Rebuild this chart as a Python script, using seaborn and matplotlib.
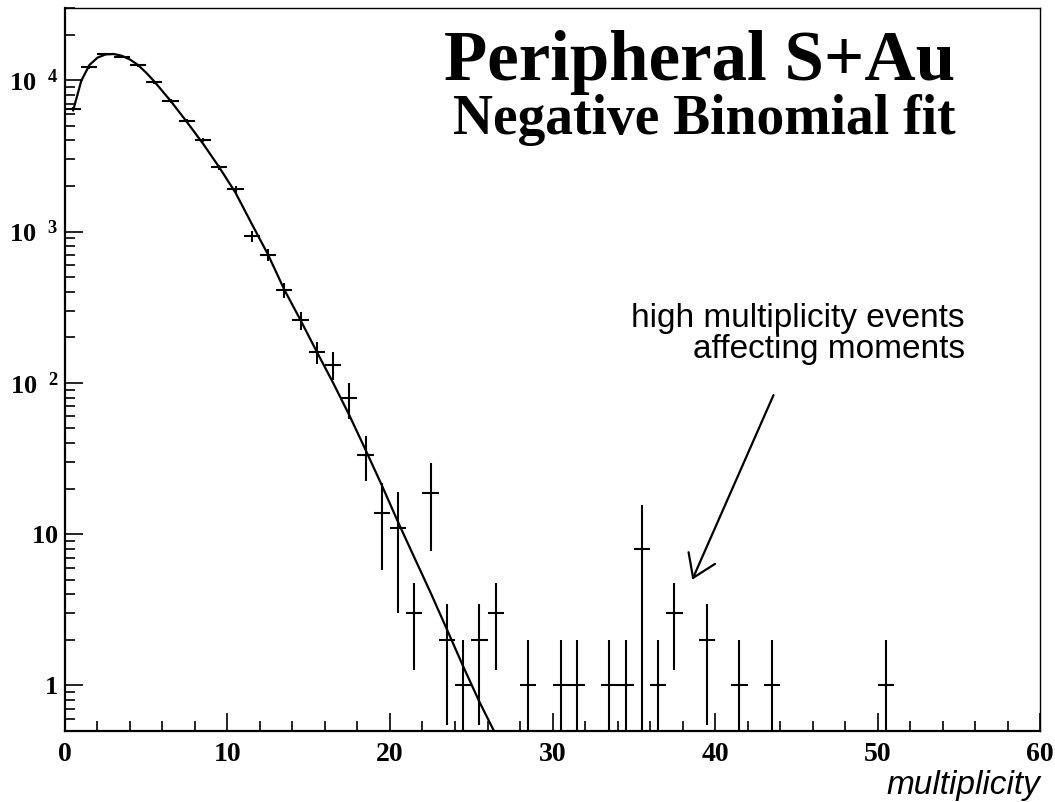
import matplotlib
matplotlib.use('Agg')
import pandas as pd
import matplotlib.pyplot as plt
import seaborn as sns
from matplotlib.ticker import FixedLocator, FixedFormatter, MultipleLocator, LogLocator, NullFormatter

# multiplicity distribution (bin centres, counts, errors)
mult = [0.5, 1.5, 2.5, 3.5, 4.5, 5.5, 6.5, 7.5, 8.5, 9.5,
        10.5, 11.5, 12.5, 13.5, 14.5, 15.5, 16.5, 17.5, 18.5, 19.5,
        20.5, 21.5, 22.5, 23.5, 24.5, 25.5, 26.5, 28.5, 30.5, 31.5,
        33.5, 34.5, 35.5, 36.5, 37.5, 39.5, 41.5, 43.5, 50.5]
counts = [6500, 12200, 14900, 14250, 12600, 9660, 7300, 5380, 4020, 2650,
          1900, 933, 700, 411, 259, 159, 132, 79, 33.6, 13.8,
          11, 3, 18.7, 2, 1, 2, 3, 1, 1, 1,
          1, 1, 8, 1, 3, 2, 1, 1, 1]
count_err = [150, 250, 300, 300, 280, 230, 190, 160, 130, 110,
             90, 75, 65, 45, 34, 26, 27, 21, 11, 8,
             8, 1.73, 11, 1.45, 1, 1.45, 1.73, 1, 1, 1,
             1, 1, 7.7, 1, 1.73, 1.45, 1, 1, 1]

# negative binomial fit curve
fit_x = [0.5, 1.0, 1.5, 2.0, 2.5, 3.0, 3.5, 4.0, 4.5, 5.0, 5.5, 6.5, 7.5, 8.5, 9.5,
         10.5, 11.5, 12.5, 13.5, 14.5, 15.5, 16.5, 17.5, 18.5, 19.5, 20.5,
         21.5, 22.5, 23.5, 24.5, 25.5, 26.4]
fit_y = [6300, 9900, 12600, 14100, 14800, 14900, 14500, 13700, 12600, 11200, 9800,
         7300, 5300, 3800, 2650, 1800, 1120, 702, 412, 259, 160, 100, 61, 36, 21, 12,
         7.0, 4.1, 2.35, 1.34, 0.78, 0.5]

ytick_vals = [1, 10, 100, 1000, 10000]
ytick_labels = [r'$\mathregular{1\hspace{0.72}}$', r'$\mathregular{10\hspace{0.72}}$',
                r'$\mathregular{10^{\hspace{0.6}2}}$', r'$\mathregular{10^{\hspace{0.6}3}}$',
                r'$\mathregular{10^{\hspace{0.6}4}}$']
xtick_vals = [0, 10, 20, 30, 40, 50, 60]
xtick_labels = ['0', '10', '20', '30', '40', '50', '60']

sns.set_style('ticks')
plt.rcParams['font.family'] = ['Liberation Serif', 'DejaVu Serif']
plt.rcParams['font.weight'] = 'bold'
for key in ['text.color', 'axes.labelcolor', 'axes.edgecolor', 'xtick.color', 'ytick.color']:
    plt.rcParams[key] = 'black'

df = pd.DataFrame({'mult': mult, 'counts': counts, 'err': count_err})
fit_df = pd.DataFrame({'x': fit_x, 'y': fit_y})

fig = plt.figure(figsize=(10.55, 8.02), dpi=100)
ax = fig.add_axes([0.0616, 0.0885, 0.9242, 0.9015])
ax.set_yscale('log')

# data points with error crosses
ax.errorbar(df['mult'], df['counts'], yerr=df['err'], xerr=0.5, fmt='none',
            ecolor='black', elinewidth=1.5, capsize=0)

# fit curve
sns.lineplot(data=fit_df, x='x', y='y', ax=ax, color='black', linewidth=1.6,
             sort=False, estimator=None)

ax.set_xlim(0, 60)
ax.set_ylim(0.5, 3e4)

# axis ticks, ROOT style (inward, left and bottom only)
ax.xaxis.set_major_locator(FixedLocator(xtick_vals))
ax.xaxis.set_major_formatter(FixedFormatter(xtick_labels))
ax.xaxis.set_minor_locator(MultipleLocator(2))
ax.yaxis.set_major_locator(FixedLocator(ytick_vals))
ax.yaxis.set_major_formatter(FixedFormatter(ytick_labels))
ax.yaxis.set_minor_locator(LogLocator(base=10, subs=[2, 3, 4, 5, 6, 7, 8, 9]))
ax.yaxis.set_minor_formatter(NullFormatter())
ax.tick_params(which='both', direction='in', top=False, right=False, width=1.2, colors='black')
ax.tick_params(which='major', length=13)
ax.tick_params(which='minor', length=7)
ax.tick_params(axis='x', which='major', pad=8, labelsize=20)
ax.tick_params(axis='y', which='major', pad=5, labelsize=19)
for lab in ax.get_xticklabels() + ax.get_yticklabels():
    lab.set_fontweight('bold')

for side in ['left', 'bottom']:
    ax.spines[side].set_linewidth(1.6)
for side in ['top', 'right']:
    ax.spines[side].set_linewidth(1.0)
    ax.spines[side].set_visible(True)

ax.set_xlabel('multiplicity', loc='right', fontsize=24, fontstyle='italic',
              fontweight='normal', family='Liberation Sans', labelpad=2)
ax.set_ylabel('')

# titles
ax.text(0.913, 0.900, 'Peripheral S+Au', transform=ax.transAxes, ha='right', va='baseline',
        fontsize=51, fontweight='bold')
ax.text(0.913, 0.826, 'Negative Binomial fit', transform=ax.transAxes, ha='right', va='baseline',
        fontsize=40, fontweight='bold')

# annotation
ax.text(0.923, 0.559, 'high multiplicity events', transform=ax.transAxes, ha='right',
        va='baseline', fontsize=24, fontweight='normal', family='Liberation Sans')
ax.text(0.923, 0.516, 'affecting moments', transform=ax.transAxes, ha='right',
        va='baseline', fontsize=24, fontweight='normal', family='Liberation Sans')
ax.annotate('', xy=(38.6, 5.0), xytext=(43.6, 83),
            arrowprops=dict(arrowstyle='->,head_length=0.78,head_width=0.52',
                            lw=1.6, color='black', mutation_scale=20,
                            shrinkA=0, shrinkB=0))

plt.savefig('out.png', dpi=100)
plt.close()
